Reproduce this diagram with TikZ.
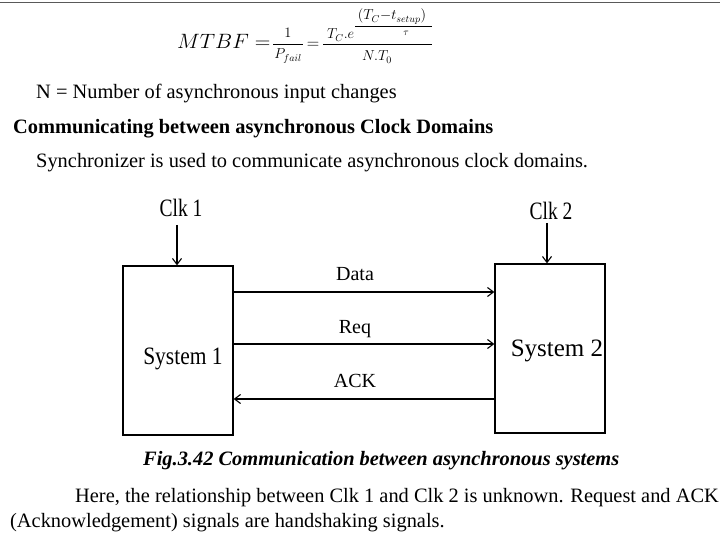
\documentclass[tikz,border=0pt]{standalone}
\usepackage{fontspec}
\setmainfont{Liberation Serif}
\newfontfamily\sysfont[FakeStretch=0.86]{Liberation Serif}
\newfontfamily\clkfont[FakeStretch=0.78]{Liberation Serif}
\usetikzlibrary{arrows.meta}
\tikzset{
  body/.style={anchor=base west, inner sep=0pt, font=\fontsize{20.4}{24}\selectfont},
  lbl/.style={anchor=base, inner sep=0pt, font=\fontsize{20}{24}\selectfont},
  clk/.style={anchor=base, inner sep=0pt, font=\fontsize{25}{28}\clkfont},
  sysbox/.style={draw, line width=1.3pt, minimum width=110pt, minimum height=169pt, inner sep=0pt},
  sig/.style={line width=1.1pt, -{Straight Barb[length=6pt,width=9pt,line width=1.1pt]}},
  mth/.style={inner sep=0pt, font=\fontsize{14}{17}\selectfont},
  fbar/.style={line width=0.8pt},
}
\begin{document}
\begin{tikzpicture}[x=1pt,y=-1pt]
\useasboundingbox (0,0) rectangle (720,540);
\fill[white] (0,0) rectangle (720,540);
\draw[black!65, line width=1.8pt] (0,2.5) -- (720,2.5);
% formula
\node[anchor=base west, inner sep=0pt, font=\fontsize{21}{25}\selectfont] (mtbf) at (177,49)
  {\scalebox{1.04}[1]{$MTBF =$}};
\node[mth, anchor=base] (one) at (288,38) {$1$};
\node[mth, anchor=base] (pfail) at (288,59) {$P_{fail}$};
\draw[fbar] (273,44) -- (303,44);
\node[anchor=base, inner sep=0pt, font=\fontsize{18}{22}\selectfont] (eq2) at (313,49) {$=$};
\node[mth, anchor=base west] (tce) at (327,39) {$T_C.e$};
\node[mth, anchor=base] (expn) at (392,20) {$(T_C{-}t_{setup})$};
\draw[fbar] (355,26) -- (432,26);
\node[inner sep=0pt, font=\fontsize{10}{12}\selectfont] (tau) at (406,33) {$\tau$};
\draw[fbar] (323,44) -- (432,44);
\node[mth, anchor=base] (nt) at (377,61) {$N.T_0$};
% text lines
\node[body] (nline) at (36,99) {N = Number of asynchronous input changes};
\node[body, font=\fontsize{20.4}{24}\selectfont\bfseries] (head) at (13,134) {Communicating between asynchronous Clock Domains};
\node[body] (sync) at (36,168) {Synchronizer is used to communicate asynchronous clock domains.};
% diagram
\node[sysbox] (s1) at (178,350.5) {};
\node[sysbox] (s2) at (550,348.5) {};
\node[anchor=base, inner sep=0pt, font=\fontsize{25}{28}\sysfont] (s1t) at (183,364) {System 1};
\node[anchor=base, inner sep=0pt, font=\fontsize{25}{28}\selectfont] (s2t) at (557,356) {System 2};
\node[clk] (clk1) at (181,217) {Clk 1};
\node[clk] (clk2) at (551,220) {Clk 2};
\coordinate (c1) at (177,225);
\coordinate (c2) at (547,223);
\draw[sig] (c1) -- (c1 |- s1.north);
\draw[sig] (c2) -- (c2 |- s2.north);
\coordinate (dY) at (0,292);
\coordinate (rY) at (0,344);
\coordinate (aY) at (0,399);
\draw[sig] (s1.east |- dY) -- (s2.west |- dY);
\draw[sig] (s1.east |- rY) -- (s2.west |- rY);
\draw[sig] (s2.west |- aY) -- (s1.east |- aY);
\node[lbl] (data) at (355,280) {Data};
\node[lbl] (req) at (355,333) {Req};
\node[lbl] (ack) at (355,387) {ACK};
% caption and text
\node[body, font=\fontsize{20.4}{24}\selectfont\bfseries\itshape] (cap) at (143,465) {Fig.3.42 Communication between asynchronous systems};
\node[body] (here) at (75,502) {Here, the relationship between Clk 1 and Clk 2 is unknown. Request and ACK};
\node[body] (ackl) at (10,527) {(Acknowledgement) signals are handshaking signals.};
\end{tikzpicture}
\end{document}
